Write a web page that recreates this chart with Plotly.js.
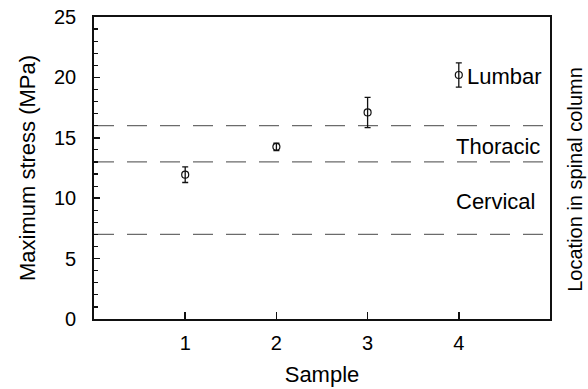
<!DOCTYPE html>
<html>
<head>
<meta charset="utf-8">
<script src="https://cdn.plot.ly/plotly-3.0.1.min.js"></script>
<style>html,body{margin:0;padding:0;background:#fff;}#chart{width:588px;height:389px;}</style>
</head>
<body>
<div id="chart"></div>
<script>
// Data
const samples = [1, 2, 3, 4];
const maxStress = [11.95, 14.25, 17.1, 20.2];
const stressErr = [0.65, 0.3, 1.25, 1.0];
const boundaryLevels = [16, 13, 7];
const boundaryX = [0, 5];
const regionNames = ["Lumbar", "Thoracic", "Cervical"];
const regionLabelY = [20.1, 14.3, 9.7];
const xTicks = [1, 2, 3, 4];
const yTicks = [0, 5, 10, 15, 20, 25];

const FONT = "Liberation Sans, Arial, sans-serif";
const labelRightX = [4.93, 4.915, 4.86];

const traces = [];
boundaryLevels.forEach(v => {
  traces.push({
    x: boundaryX, y: boundaryX.map(() => v),
    mode: "lines", type: "scatter", hoverinfo: "skip", showlegend: false,
    line: {color: "#6b6b6b", width: 1.2, dash: "20px,13px"}
  });
});
traces.push({
  x: samples, y: maxStress, type: "scatter", mode: "markers", showlegend: false,
  marker: {symbol: "circle-open", size: 7, color: "#111", line: {width: 1.2, color: "#111"}},
  error_y: {type: "data", array: stressErr, visible: true, color: "#111", thickness: 1.3, width: 3}
});

const annotations = regionNames.map((n, i) => ({
  x: labelRightX[i], y: regionLabelY[i], xref: "x", yref: "y", text: n, showarrow: false,
  xanchor: "right", yanchor: "middle", font: {family: FONT, size: 22, color: "#000"}
}));
annotations.push({
  x: 1.0555, y: 0.462, xref: "paper", yref: "paper", text: "Location in spinal column",
  showarrow: false, textangle: -90, xanchor: "center", yanchor: "middle",
  font: {family: FONT, size: 20, color: "#000"}
});

const layout = {
  width: 588, height: 389,
  margin: {l: 94, r: 38, t: 17, b: 70},
  paper_bgcolor: "#fff", plot_bgcolor: "#fff",
  font: {family: FONT, size: 20, color: "#000"},
  xaxis: {
    range: [0, 5], tickvals: xTicks, ticktext: xTicks.map(String),
    ticks: "inside", ticklen: 7, tickwidth: 1.5, tickcolor: "#111",
    showline: true, linecolor: "#111", linewidth: 1.8, mirror: true,
    showgrid: false, zeroline: false, ticklabelstandoff: 5,
    title: {text: "Sample", font: {family: FONT, size: 22}, standoff: 14}
  },
  yaxis: {
    range: [0, 25], tickvals: yTicks, ticktext: yTicks.map(String),
    ticks: "inside", ticklen: 6, tickwidth: 1.5, tickcolor: "#111",
    minor: {dtick: 1, ticks: "inside", ticklen: 4, tickwidth: 1.2, tickcolor: "#111", showgrid: false},
    showline: true, linecolor: "#111", linewidth: 1.8, mirror: true,
    showgrid: false, zeroline: false, ticklabelstandoff: 12,
    title: {text: "Maximum stress (MPa)", font: {family: FONT, size: 22}, standoff: 12}
  },
  annotations: annotations
};

Plotly.newPlot("chart", traces, layout, {staticPlot: true, displayModeBar: false});
</script>
</body>
</html>
